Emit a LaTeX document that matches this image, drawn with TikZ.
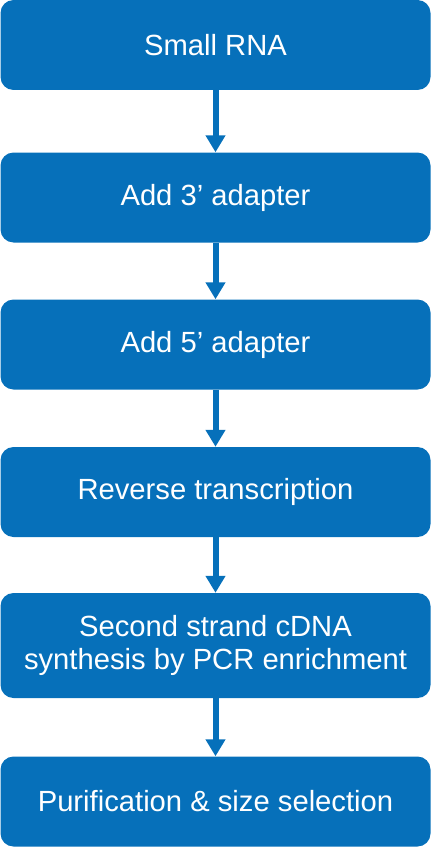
\documentclass[tikz,border=0pt]{standalone}
\usepackage{fontspec}
\setmainfont{Liberation Sans}
\usetikzlibrary{arrows.meta}
\definecolor{stepblue}{RGB}{6,112,186}
\tikzset{
  stepbox/.style={fill=stepblue, text=white, rounded corners=13pt, minimum width=430pt,
    minimum height=90pt, inner sep=0pt, align=center,
    font=\fontsize{29.2}{33}\selectfont},
  steparrow/.style={draw=stepblue, line width=6pt,
    -{Triangle[width=19pt,length=17pt]}}
}
\begin{document}
\begin{tikzpicture}[x=1pt,y=-1pt]
\useasboundingbox (0,0) rectangle (431,848);
\node[stepbox] (rna) at (215.5,45) {Small RNA};
\node[stepbox] (three) at (215.5,197.5) {Add 3’ adapter};
\node[stepbox] (five) at (215.5,344.5) {Add 5’ adapter};
\node[stepbox] (rt) at (215.5,492) {Reverse transcription};
\node[stepbox, minimum height=105pt] (pcr) at (215.5,645.5) {Second strand cDNA\\synthesis by PCR enrichment};
\node[stepbox] (pur) at (215.5,801.5) {Purification \& size selection};
\draw[steparrow] (rna) -- (three);
\draw[steparrow] (three) -- (five);
\draw[steparrow] (five) -- (rt);
\draw[steparrow] (rt) -- (pcr);
\draw[steparrow] (pcr) -- (pur);
\end{tikzpicture}
\end{document}
